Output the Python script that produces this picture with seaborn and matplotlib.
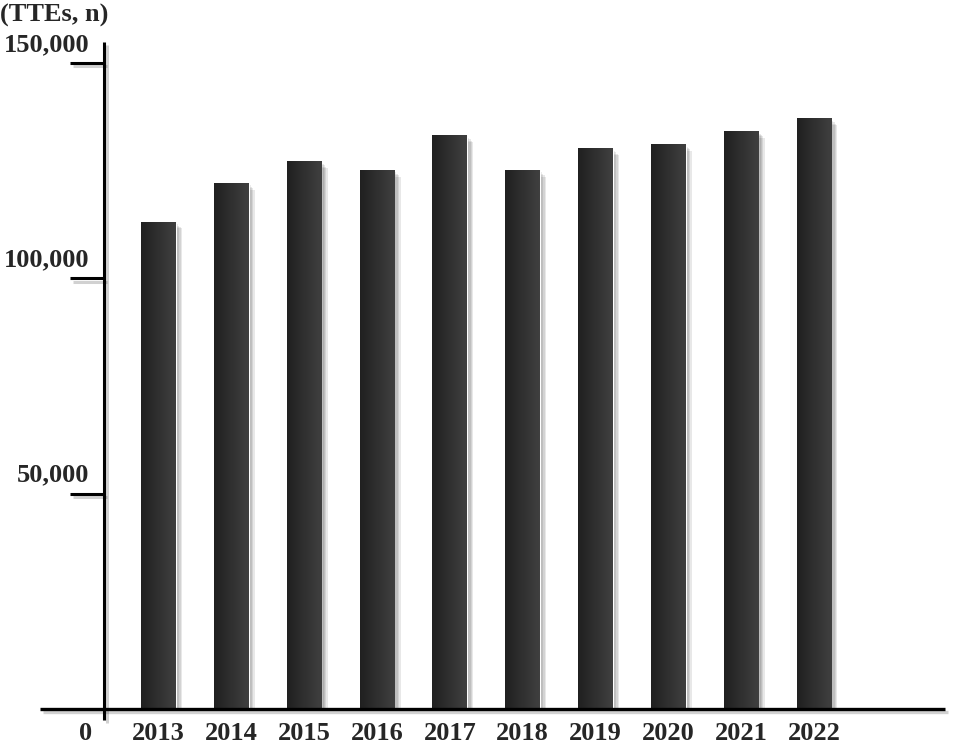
import matplotlib.pyplot as plt
import matplotlib.patheffects as pe
from matplotlib.colors import LinearSegmentedColormap
import numpy as np
import seaborn as sns

# data
years = ['2013', '2014', '2015', '2016', '2017', '2018', '2019', '2020', '2021', '2022']
ttes = [113000, 122000, 127000, 125000, 133000, 125000, 130000, 131000, 134000, 137000]
y_ticks = [50000, 100000, 150000]
y_tick_labels = ['50,000', '100,000', '150,000']
y_title = '(TTEs, n)'

sns.set_style('white')
plt.rcParams['font.family'] = ['Liberation Serif', 'DejaVu Serif']
plt.rcParams['font.weight'] = 'bold'

W, H = 965, 743
fig = plt.figure(figsize=(W / 100, H / 100), dpi=100)
# axes box: left spine at x=104px, zero line at y=709px, top at y=42px
ax = fig.add_axes([104 / W, 1 - 709 / H, (945 - 104) / W, (709 - 42) / H])

sns.barplot(x=years, y=ttes, color='#303030', width=0.476, saturation=1,
            ax=ax, zorder=2)

shadow = [pe.SimplePatchShadow(offset=(o, -o), shadow_rgbFace='k', alpha=0.09)
          for o in (1.5, 2.5, 3.5, 4.5)] + [pe.Normal()]
grad = np.linspace(0, 1, 64).reshape(1, -1)
cmap = LinearSegmentedColormap.from_list('bar', ['#202020', '#404040'])
for p in ax.patches:
    p.set_path_effects(shadow)
    x0, y0, w, h = p.get_x(), p.get_y(), p.get_width(), p.get_height()
    ax.imshow(grad, extent=[x0, x0 + w, y0, y0 + h], aspect='auto', cmap=cmap,
              zorder=3, interpolation='bilinear')

ax.set_xlim(-0.748, 10.80)
ax.set_ylim(0, 154800)

for s in ax.spines.values():
    s.set_visible(False)

line_fx = [pe.SimpleLineShadow(offset=(2, -2.5), shadow_color='k', alpha=0.18),
           pe.Normal()]
# vertical axis line (runs a little below zero) and the baseline
ax.plot([0, 0], [-11 / 667, 1], transform=ax.transAxes, color='k', lw=2.2,
        clip_on=False, solid_capstyle='butt', zorder=5, path_effects=line_fx)
ax.plot([(40 - 104) / 841, 1], [0, 0], transform=ax.transAxes, color='k',
        lw=2.4, clip_on=False, solid_capstyle='butt', zorder=5,
        path_effects=line_fx)

ax.set_yticks(y_ticks)
ax.set_yticklabels([])
ax.tick_params(axis='y', length=24.5, width=2.2, direction='out', color='k',
               left=True)
for t in ax.yaxis.get_major_ticks():
    t.tick1line.set_path_effects(line_fx)

for v, lab in zip(y_ticks, y_tick_labels):
    ax.annotate(lab, xy=(0, v), xycoords=ax.get_yaxis_transform(),
                xytext=(-10.5, 8.5), textcoords='offset points',
                ha='right', va='baseline', fontsize=19, fontweight='bold')

ax.tick_params(axis='x', length=0, pad=9, labelsize=19)
for lab in ax.get_xticklabels():
    lab.set_fontweight('bold')
ax.annotate('0', xy=(0, 0), xycoords='axes fraction', xytext=(-13, -9),
            textcoords='offset points', ha='center', va='top', fontsize=19,
            fontweight='bold')
ax.set_xlabel('')
ax.set_ylabel('')

fig.text(0.0, 1 - 22 / H, y_title, ha='left', va='baseline', fontsize=19,
         fontweight='bold')

fig.savefig('out.png', dpi=100)
